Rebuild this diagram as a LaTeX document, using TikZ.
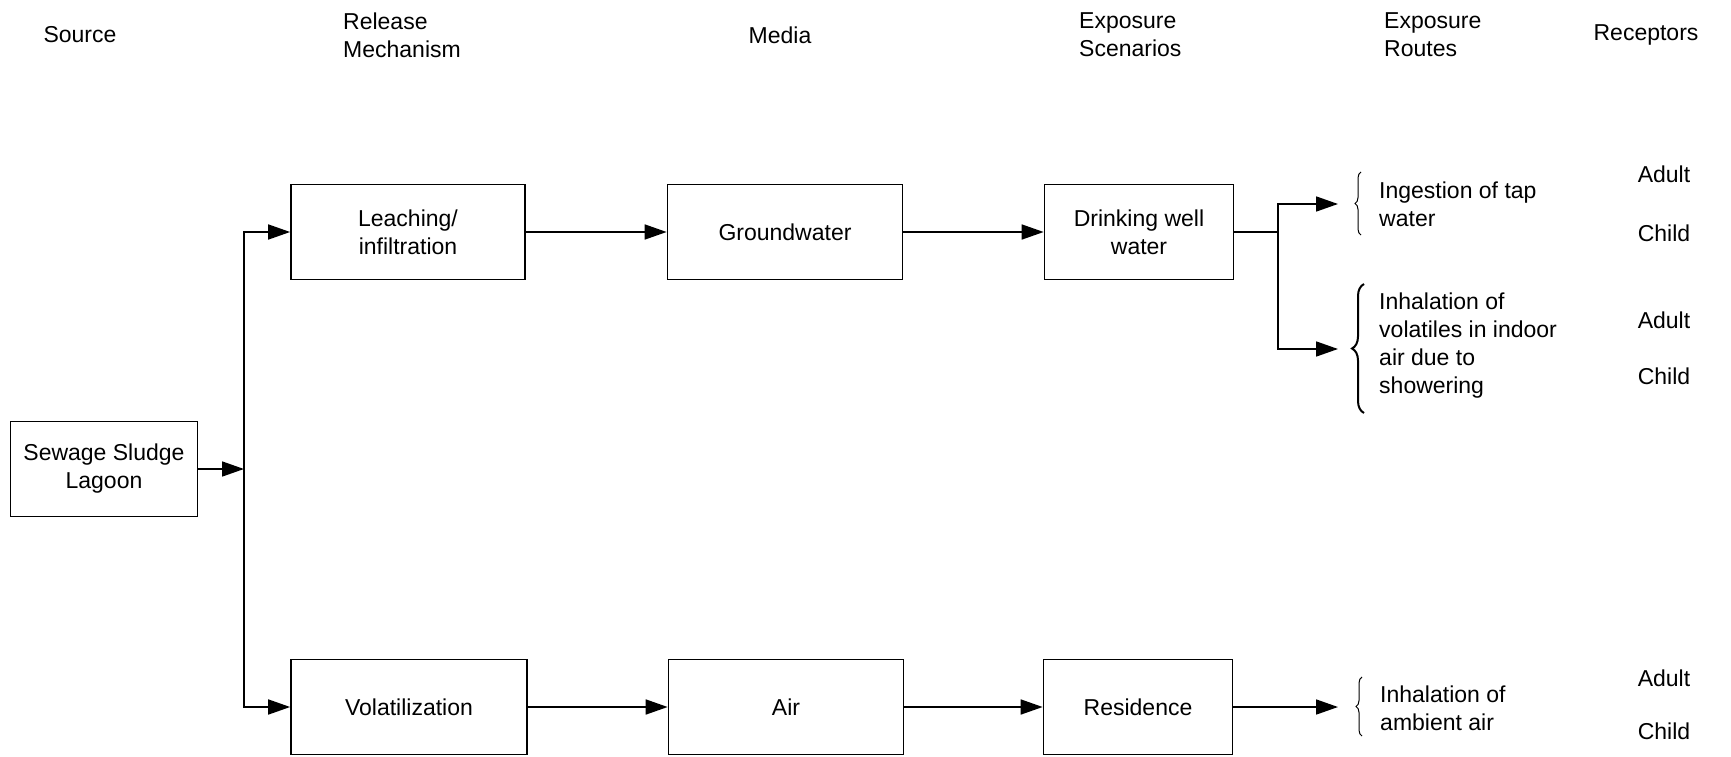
\documentclass[tikz,border=0pt]{standalone}
\usepackage{fontspec}
\setmainfont{Liberation Sans}
\usetikzlibrary{arrows.meta,decorations.pathreplacing}
\begin{document}
\begin{tikzpicture}[x=1pt,y=-1pt,
  font=\fontsize{23}{28}\selectfont,
  box/.style={draw,line width=1.7pt,minimum height=95pt,align=center,inner sep=0pt},
  lbl/.style={align=left,inner sep=0pt,anchor=west},
  ctr/.style={align=center,inner sep=0pt},
  conn/.style={line width=1.7pt},
  arr/.style={line width=1.7pt,-{Triangle[length=22pt,width=15pt]}},
  brc/.style={decorate,decoration={brace,amplitude=#1}},
]
\useasboundingbox (0,0) rectangle (1731,757);
% headers
\node[ctr] (hsrc) at (80,35) {Source};
\node[lbl] (hrel) at (343,35) {Release\\Mechanism};
\node[ctr] (hmed) at (780,35) {Media};
\node[lbl] (hsce) at (1079,35) {Exposure\\Scenarios};
\node[lbl] (hrou) at (1384,35) {Exposure\\Routes};
\node[ctr] (hrec) at (1646,35) {Receptors};
% boxes
\node[box,minimum width=187pt] (sew) at (104,469) {Sewage Sludge\\Lagoon};
\node[box,minimum width=234pt] (leach) at (408,232) {Leaching/\\infiltration};
\node[box,minimum width=235pt] (gw) at (785,232) {Groundwater};
\node[box,minimum width=189pt] (drink) at (1139,232) {Drinking well\\water};
\node[box,minimum width=236pt] (vol) at (409,707) {Volatilization};
\node[box,minimum width=235pt] (air) at (786,707) {Air};
\node[box,minimum width=189pt] (res) at (1138,707) {Residence};
% coordinates
\coordinate (jx) at (244,469);
\coordinate (bx) at (1278,232);
\coordinate (r1) at (1338,204);
\coordinate (r2) at (1338,349);
\coordinate (r3) at (1338,707);
% connectors
\draw[arr] (sew.east) -- (jx);
\draw[arr] (jx) |- (leach.west);
\draw[arr] (jx) |- (vol.west);
\draw[arr] (leach.east) -- (gw.west);
\draw[arr] (gw.east) -- (drink.west);
\draw[conn] (drink.east) -- (bx);
\draw[arr] (bx) |- (r1);
\draw[arr] (bx) |- (r2);
\draw[arr] (vol.east) -- (air.west);
\draw[arr] (air.east) -- (res.west);
\draw[arr] (res.east) -- (r3);
% braces
\draw[brc=6pt,line width=1pt] (1361,235) -- (1361,172);
\draw[brc=12pt,line width=2pt] (1364,413) -- (1364,284);
\draw[brc=6pt,line width=1pt] (1362,736) -- (1362,677);
% routes
\node[lbl] (ing) at (1379,204) {Ingestion of tap\\water};
\node[lbl] (inh) at (1379,346) {Inhalation of\\volatiles in indoor\\air due to\\showering};
\node[lbl] (amb) at (1380,708) {Inhalation of\\ambient air};
% receptors
\node[ctr] (a1) at (1664,174) {Adult};
\node[ctr] (c1) at (1664,233) {Child};
\node[ctr] (a2) at (1664,320) {Adult};
\node[ctr] (c2) at (1664,376) {Child};
\node[ctr] (a3) at (1664,678) {Adult};
\node[ctr] (c3) at (1664,731) {Child};
\end{tikzpicture}
\end{document}
